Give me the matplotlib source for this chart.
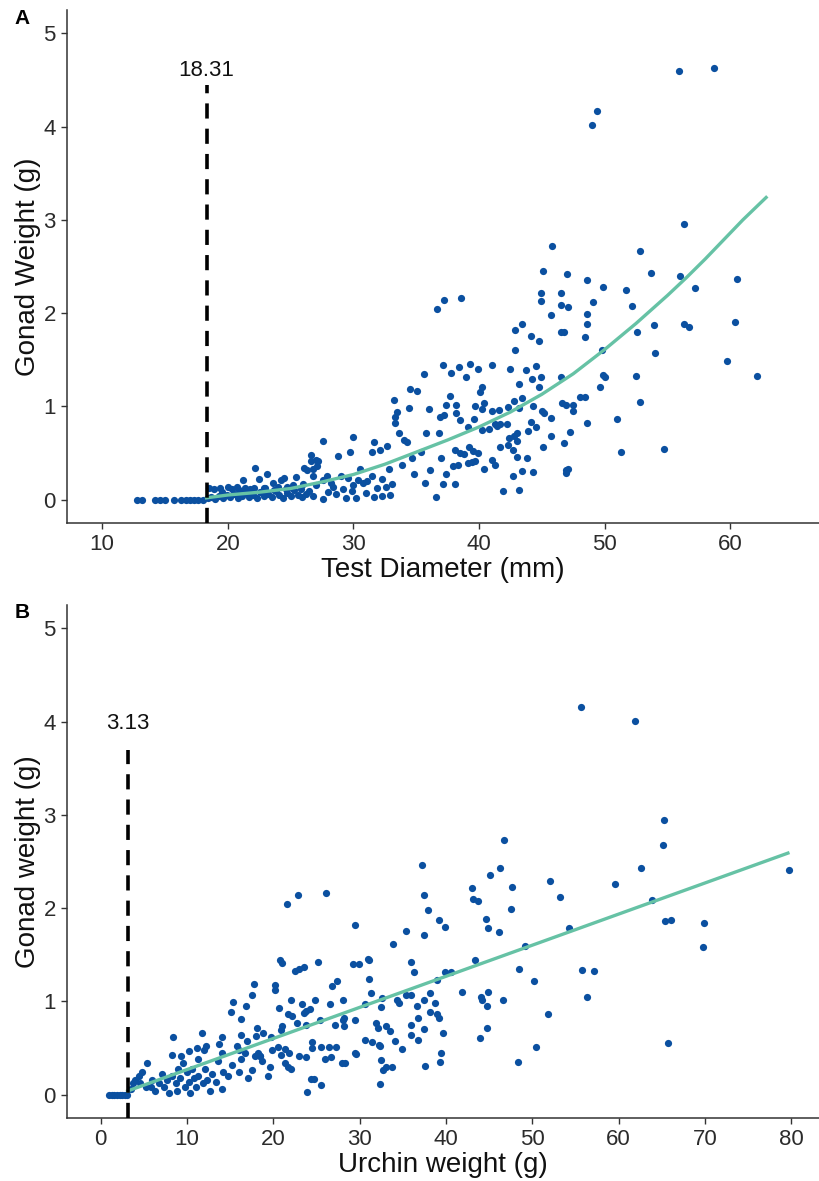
import matplotlib
matplotlib.use("Agg")
import matplotlib.pyplot as plt

plt.rcParams['font.family'] = ['Liberation Sans', 'DejaVu Sans']

# ---- panel A : test diameter vs gonad weight ----
a_x = [12.8, 13.2, 14.2, 14.6, 15.0, 15.7, 16.3, 16.7, 17.0, 17.3, 17.6, 18.0,
       18.4, 18.7, 19.0, 19.3, 19.6, 19.9, 20.2, 20.5, 20.8, 21.1, 21.4, 21.7, 22.0, 22.3,
       22.6, 22.9, 23.2, 23.5, 23.8, 24.1, 24.4, 24.7, 25.0, 25.3, 25.6, 25.9, 26.2, 26.5,
       19.5, 20.9, 22.1, 23.0, 24.0, 25.1, 26.0, 21.0, 23.7, 24.6,
       18.5, 18.9, 19.4, 20.0, 20.3, 20.7, 21.2, 21.4, 21.8, 22.2, 22.5, 23.1, 22.9, 23.6,
       24.2, 24.5, 24.7, 25.2, 25.4, 25.8, 26.1, 26.3, 26.6, 26.6, 26.8, 27.0, 27.1, 27.2,
       27.6, 26.8, 27.0, 26.8, 27.6, 27.6, 27.9, 28.2, 28.4, 28.8, 29.0, 29.2, 29.4, 29.6,
       29.7, 30.0, 30.0, 30.2, 30.4, 30.5, 30.8, 31.1, 31.5, 31.5, 31.6, 31.6, 32.1, 32.3,
       32.3, 32.7, 32.8, 32.9, 33.1, 33.2, 33.3, 33.3, 33.5, 33.6, 33.9, 34.0, 34.3, 34.4,
       34.5, 34.7, 34.8, 35.1, 35.4, 35.6, 35.7, 35.8, 36.0, 36.1, 36.6, 36.8, 36.9, 38.1,
       36.65, 28.0, 28.6, 29.9, 31.0, 31.9, 32.6,
       37.2, 38.6, 45.8, 45.1, 47.0, 48.6, 49.9, 51.7, 52.8, 53.7, 56.0, 56.3, 57.2, 60.5,
       44.9, 44.9, 46.5, 46.5, 47.1, 49.1, 52.2, 45.7, 48.6, 48.6, 43.4, 42.9, 44.1, 44.8,
       46.5, 46.8, 48.4, 52.6, 53.9, 56.3, 56.7, 60.4, 42.9, 49.8, 54.0, 59.7, 62.1,
       37.1, 37.8, 38.4, 39.0, 39.3, 39.9, 41.0, 42.5, 43.7, 44.5, 44.2, 44.9, 43.2, 40.2,
       40.1, 37.7, 44.8, 46.5, 48.0, 48.4, 46.6, 46.9, 47.5, 47.5, 49.9, 50.0, 49.6, 52.5,
       52.8, 37.4, 38.2, 39.7, 40.2, 40.4, 41.0, 41.6, 42.3, 42.8, 43.2, 43.4, 44.3, 45.0,
       45.2, 45.7, 37.2, 38.2, 38.5, 39.1, 39.6, 40.2, 40.8, 41.3, 41.4, 41.7, 42.2, 42.8,
       43.0, 42.4, 43.9, 44.1, 44.5, 43.0, 45.7, 45.1, 47.2, 48.6, 46.8, 51.0, 51.3, 54.7,
       37.0, 38.5, 38.8, 39.2, 39.5, 39.9, 39.1, 39.4, 39.7, 40.4, 41.0, 41.3, 41.7, 42.3,
       42.7, 43.0, 43.8, 37.4, 37.9, 38.3, 37.1, 38.1, 42.7, 43.4, 44.3, 41.9, 43.2, 46.9,
       47.1, 46.9,
       49.0, 49.4, 55.9, 58.7]
a_y = [0.0, 0.0, 0.0, 0.0, 0.0, 0.0, 0.0, 0.0, 0.0, 0.0, 0.0, 0.0,
       0.02, 0.03, 0.01, 0.04, 0.02, 0.05, 0.03, 0.06, 0.02, 0.04, 0.07, 0.03, 0.05, 0.02,
       0.08, 0.04, 0.06, 0.03, 0.09, 0.05, 0.02, 0.07, 0.04, 0.10, 0.05, 0.03, 0.06, 0.09,
       0.08, 0.10, 0.12, 0.13, 0.14, 0.13, 0.17, 0.07, 0.10, 0.11,
       0.12, 0.11, 0.12, 0.14, 0.11, 0.14, 0.21, 0.12, 0.11, 0.34, 0.22, 0.27, 0.12, 0.18,
       0.21, 0.23, 0.14, 0.16, 0.24, 0.11, 0.34, 0.32, 0.48, 0.41, 0.33, 0.43, 0.36, 0.41,
       0.63, 0.25, 0.16, 0.035, 0.01, 0.21, 0.25, 0.18, 0.14, 0.47, 0.25, 0.11, 0.02, 0.23,
       0.51, 0.67, 0.16, 0.02, 0.21, 0.33, 0.18, 0.20, 0.25, 0.51, 0.62, 0.03, 0.53, 0.035,
       0.22, 0.58, 0.33, 0.05, 0.17, 1.07, 0.89, 0.82, 0.94, 0.71, 0.37, 0.64, 0.62, 0.98,
       1.19, 0.45, 0.28, 1.17, 0.51, 1.35, 0.18, 0.71, 0.97, 0.32, 0.03, 0.71, 0.89, 0.53,
       2.04, 0.08, 0.06, 0.09, 0.07, 0.12, 0.14,
       2.14, 2.16, 2.72, 2.45, 2.42, 2.36, 2.28, 2.25, 2.67, 2.43, 2.40, 2.96, 2.27, 2.37,
       2.22, 2.13, 2.22, 2.09, 2.07, 2.12, 2.08, 1.98, 1.99, 1.88, 1.88, 1.82, 1.75, 1.70,
       1.80, 1.80, 1.74, 1.80, 1.87, 1.88, 1.85, 1.90, 1.61, 1.60, 1.57, 1.49, 1.33,
       1.44, 1.36, 1.42, 1.32, 1.45, 1.40, 1.44, 1.40, 1.39, 1.43, 1.29, 1.31, 1.24, 1.21,
       1.15, 1.11, 1.21, 1.31, 1.10, 1.10, 1.04, 1.02, 1.01, 0.95, 1.34, 1.32, 1.21, 1.33,
       1.05, 1.01, 1.01, 1.00, 0.97, 1.04, 0.95, 0.96, 0.99, 1.06, 0.98, 1.09, 1.00, 0.95,
       0.93, 0.88, 0.91, 0.93, 0.85, 0.78, 0.86, 0.75, 0.76, 0.81, 0.79, 0.81, 0.81, 0.68,
       0.71, 0.66, 0.74, 0.83, 0.78, 0.63, 0.68, 0.57, 0.73, 0.82, 0.61, 0.86, 0.51, 0.54,
       0.45, 0.50, 0.49, 0.56, 0.52, 0.50, 0.39, 0.40, 0.41, 0.33, 0.43, 0.37, 0.57, 0.59,
       0.53, 0.46, 0.45, 0.28, 0.36, 0.37, 0.17, 0.17, 0.25, 0.31, 0.30, 0.09, 0.10, 0.32,
       0.33, 0.29,
       4.02, 4.17, 4.60, 4.63]
a_fit_x = [18.31, 20, 22.5, 25, 27.5, 30, 32.5, 35, 37.5, 40, 42.5, 45, 47.5, 50,
           52.5, 55, 56.5, 58, 59.5, 61, 62.85]
a_fit_y = [0.02, 0.05, 0.08, 0.12, 0.19, 0.27, 0.38, 0.51, 0.64, 0.78, 0.94, 1.13, 1.35,
           1.61, 1.89, 2.19, 2.38, 2.58, 2.79, 3.00, 3.24]
a_cut = 18.31

# ---- panel B : urchin weight vs gonad weight ----
b_x = [1.0, 1.3, 1.6, 1.9, 2.2, 2.5, 2.8, 3.1,
       5.4, 4.8, 4.4, 4.0, 3.7, 3.5, 4.6, 5.2, 6.0, 5.8, 6.3, 6.7, 7.1, 7.3, 7.7, 7.9,
       8.3, 8.7, 8.8, 9.0, 9.2, 9.5, 9.8, 10.0, 10.2, 10.4, 10.6, 10.8, 11.0, 11.3, 11.3,
       11.8, 12.1, 12.3, 12.7, 12.9, 13.3, 13.6, 14.1, 14.2, 14.8, 15.2, 16.0, 16.3, 17.1,
       17.5, 18.7, 19.4, 19.6, 21.3, 21.7, 22.1, 23.9, 24.4, 24.7, 25.5, 26.0, 27.9, 28.3,
       32.3, 32.5, 32.7, 33.1, 33.8, 16.7, 23.8, 26.7, 27.3,
       21.6, 22.8, 26.1, 29.4, 33.9, 29.2, 29.9, 31.0, 31.1, 31.1, 31.3, 32.6, 34.3, 34.5,
       20.8, 21.0, 22.5, 23.0, 23.5, 25.2, 26.8, 27.4, 28.1, 26.6, 22.1, 23.3, 23.8, 24.2,
       24.8, 25.4, 23.6, 21.7, 22.2, 22.7, 23.8, 21.0, 20.9, 20.6, 20.2, 20.2, 17.8, 17.5,
       16.8, 15.3, 15.1, 16.2, 18.1, 18.8, 19.7, 16.2, 16.9, 18.0, 20.5, 19.9, 21.4, 20.9,
       21.8, 23.0, 24.5, 24.5, 25.5, 26.4, 27.1, 28.1, 28.2, 28.2, 29.5, 29.6, 30.6, 30.6,
       31.4, 31.9, 32.1, 32.2, 32.4, 33.0, 33.5, 34.1, 32.5, 8.4, 8.3, 9.3, 10.2, 11.2,
       11.7, 12.2, 12.0, 13.7, 14.1, 14.1, 15.8, 16.0, 18.2, 18.4, 17.9, 18.5, 29.4,
       37.2, 37.4, 37.9, 35.4, 37.4, 35.9, 36.3, 35.4, 35.9, 38.9, 38.1, 37.4, 36.6, 38.7,
       38.1, 38.9, 36.7, 36.0, 37.5, 36.0, 36.7, 34.9, 37.6, 39.3, 48.3,
       55.6, 61.9, 65.3, 65.1, 62.6, 59.6, 63.9, 65.4, 66.1, 69.9, 69.8, 79.7, 46.7, 46.3,
       45.1, 43.0, 43.1, 43.7, 47.6, 47.5, 44.6, 44.9, 46.1, 52.0, 53.2, 54.2, 49.1, 43.4,
       39.9, 40.6, 48.4, 50.2, 55.8, 57.1, 56.3, 41.9, 44.0, 44.2, 44.9, 44.8, 46.6, 51.8,
       44.7, 43.9, 39.7, 50.4, 65.7, 39.2, 39.9, 39.2, 39.4]
b_y = [0.0, 0.0, 0.0, 0.0, 0.0, 0.0, 0.0, 0.0,
       0.34, 0.24, 0.20, 0.16, 0.12, 0.06, 0.12, 0.08, 0.16, 0.08, 0.04, 0.12, 0.22, 0.08,
       0.16, 0.02, 0.20, 0.12, 0.04, 0.28, 0.18, 0.34, 0.08, 0.24, 0.14, 0.02, 0.28, 0.18,
       0.08, 0.38, 0.20, 0.12, 0.28, 0.16, 0.04, 0.22, 0.14, 0.36, 0.06, 0.24, 0.20, 0.32,
       0.24, 0.38, 0.18, 0.26, 0.36, 0.20, 0.30, 0.34, 0.30, 0.28, 0.03, 0.17, 0.17, 0.10,
       0.38, 0.34, 0.34, 0.11, 0.37, 0.26, 0.30, 0.30, 0.45, 0.40, 0.40, 0.51,
       2.04, 2.14, 2.16, 1.82, 1.62, 1.40, 1.40, 1.45, 1.44, 1.24, 1.09, 1.04, 1.01, 0.98,
       1.44, 1.41, 1.33, 1.35, 1.37, 1.42, 1.16, 1.22, 1.01, 0.97, 1.02, 0.97, 0.90, 0.92,
       1.02, 0.80, 0.88, 0.86, 0.84, 0.77, 0.75, 0.74, 0.69, 0.93, 1.18, 1.12, 1.19, 1.07,
       0.95, 0.99, 0.89, 0.81, 0.72, 0.66, 0.62, 0.64, 0.58, 0.63, 0.51, 0.48, 0.49, 0.43,
       0.45, 0.41, 0.56, 0.50, 0.51, 0.51, 0.75, 0.80, 0.82, 0.74, 0.80, 0.44, 0.59, 0.97,
       0.56, 0.77, 0.72, 0.53, 0.52, 0.74, 0.68, 0.58, 0.94, 0.62, 0.43, 0.42, 0.47, 0.50,
       0.66, 0.52, 0.48, 0.54, 0.62, 0.45, 0.52, 0.48, 0.45, 0.41, 0.42, 0.42, 0.45,
       2.46, 2.14, 1.98, 1.75, 1.71, 1.42, 1.31, 1.07, 1.07, 1.23, 1.09, 1.02, 0.95, 0.98,
       0.89, 0.86, 0.82, 0.75, 0.70, 0.64, 0.59, 0.49, 0.31, 0.35, 0.35,
       4.16, 4.01, 2.95, 2.68, 2.43, 2.26, 2.09, 1.86, 1.87, 1.84, 1.58, 2.41, 2.73, 2.43,
       2.36, 2.22, 2.10, 2.08, 2.23, 1.99, 1.88, 1.79, 1.74, 2.29, 2.12, 1.79, 1.59, 1.44,
       1.31, 1.31, 1.35, 1.22, 1.34, 1.33, 1.05, 1.10, 1.05, 1.02, 1.10, 0.95, 1.02, 0.86,
       0.72, 0.61, 0.66, 0.51, 0.55, 1.87, 1.80, 0.82, 0.45]
b_fit_x = [3.13, 79.6]
b_fit_y = [0.04, 2.59]
b_cut = 3.13

pt_col = '#0B50A0'
fit_col = '#66C2A5'
ax_col = '#333333'

fig = plt.figure(figsize=(8.19, 11.81), dpi=100)
W, H = 819.0, 1181.0


def panel(top, bottom, xs, ys, fx, fy, cut, cut_top, cut_lab_y, xlim, xticks, xlab, ylab, tag):
    ax = fig.add_axes([67 / W, 1 - bottom / H, (W - 67) / W, (bottom - top) / H])
    ax.scatter(xs, ys, s=27, color=pt_col, linewidths=0, zorder=3)
    ax.plot(fx, fy, color=fit_col, lw=2.4, zorder=4)
    ax.plot([cut, cut], [-0.25, cut_top], color='black', lw=2.6,
            linestyle=(0, (4.2, 2.8)), zorder=5, clip_on=False)
    ax.text(cut, cut_lab_y, '%.2f' % cut, ha='center', va='center', fontsize=16, color='#111111')
    ax.set_xlim(*xlim)
    ax.set_ylim(-0.25, 5.25)
    ax.set_xticks(xticks)
    ax.set_yticks([0, 1, 2, 3, 4, 5])
    for s in ['top', 'right']:
        ax.spines[s].set_visible(False)
    for s in ['left', 'bottom']:
        ax.spines[s].set_color(ax_col)
        ax.spines[s].set_linewidth(1.1)
    ax.tick_params(length=4, width=1.0, color=ax_col, labelsize=16, labelcolor='#2b2b2b', pad=4)
    fig.text(28 / W, 1 - (top + bottom) / 2 / H, ylab, rotation=90, ha='center', va='center',
             fontsize=20, color='#111111')
    fig.text((67 + W) / 2 / W, 1 - (bottom + 47) / H, xlab, ha='center', va='center',
             fontsize=20, color='#111111')
    fig.text(22 / W, 1 - (top + 8) / H, tag, ha='center', va='center', fontsize=15,
             fontweight='bold', color='black')
    return ax


panel(10, 523, a_x, a_y, a_fit_x, a_fit_y, a_cut, 4.45, 4.6, (7.2, 67.06),
      [10, 20, 30, 40, 50, 60], 'Test Diameter (mm)', 'Gonad Weight (g)', 'A')
panel(605, 1118, b_x, b_y, b_fit_x, b_fit_y, b_cut, 3.7, 3.98, (-3.9, 83.2),
      [0, 10, 20, 30, 40, 50, 60, 70, 80], 'Urchin weight (g)', 'Gonad weight (g)', 'B')

fig.savefig('out.png', dpi=100)
